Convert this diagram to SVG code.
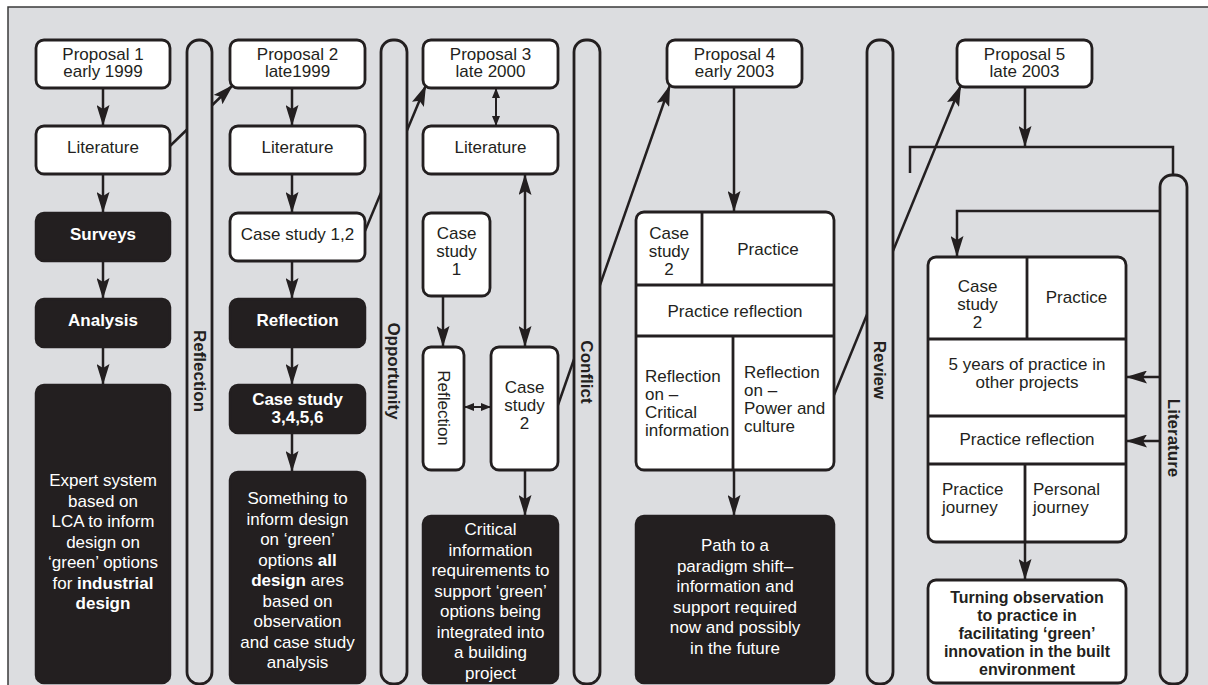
<svg xmlns="http://www.w3.org/2000/svg" width="1208" height="685" viewBox="0 0 1208 685">
<defs>
<style>
.t{font-family:"Liberation Sans",Arial,Helvetica,sans-serif;font-size:17px;fill:#231f20}
.c{text-anchor:middle}
.w{fill:#ffffff}
.b{font-weight:bold}
.box{fill:#ffffff;stroke:#231f20;stroke-width:2.8}
.dark{fill:#231f20;stroke:#231f20;stroke-width:2.5}
.bar{fill:#dcdde0;stroke:#231f20;stroke-width:2.8}
.ln{fill:none;stroke:#231f20;stroke-width:2.5}
.ar{fill:none;stroke:#231f20;stroke-width:2.5;marker-end:url(#big)}
.dbl{fill:none;stroke:#231f20;stroke-width:2.5;marker-end:url(#big);marker-start:url(#bigs)}
.sd{fill:none;stroke:#231f20;stroke-width:2;marker-end:url(#sm);marker-start:url(#sms)}
.div{fill:none;stroke:#231f20;stroke-width:2.8}
</style>
<marker id="big" markerUnits="userSpaceOnUse" markerWidth="21" markerHeight="13" viewBox="0 0 21 13" refX="21" refY="6.5" orient="auto">
<path d="M0,0 L21,6.5 L0,13 L4,6.5 z" fill="#231f20"/>
</marker>
<marker id="bigs" markerUnits="userSpaceOnUse" markerWidth="21" markerHeight="13" viewBox="0 0 21 13" refX="0" refY="6.5" orient="auto">
<path d="M21,0 L0,6.5 L21,13 L17,6.5 z" fill="#231f20"/>
</marker>
<marker id="sm" markerUnits="userSpaceOnUse" markerWidth="10" markerHeight="8" viewBox="0 0 10 8" refX="10" refY="4" orient="auto">
<path d="M0,0 L10,4 L0,8 z" fill="#231f20"/>
</marker>
<marker id="sms" markerUnits="userSpaceOnUse" markerWidth="10" markerHeight="8" viewBox="0 0 10 8" refX="0" refY="4" orient="auto">
<path d="M10,0 L0,4 L10,8 z" fill="#231f20"/>
</marker>
</defs>

<g id="background">
<rect x="8" y="7" width="1200" height="678" fill="#dcdde0"/>
<path d="M8,685 L8,7 L1208,7" fill="none" stroke="#3a3a3a" stroke-width="1.5"/>
</g>

<g id="connectors">
<line class="ar" x1="103" y1="88" x2="103" y2="126"/>
<line class="ar" x1="103" y1="174" x2="103" y2="213"/>
<line class="ar" x1="103" y1="261" x2="103" y2="299"/>
<line class="ar" x1="103" y1="347" x2="103" y2="385"/>
<line class="ar" x1="170" y1="146" x2="233" y2="85"/>
<line class="ar" x1="292" y1="88" x2="292" y2="126"/>
<line class="ar" x1="292" y1="174" x2="292" y2="213"/>
<line class="ar" x1="292" y1="261" x2="292" y2="299"/>
<line class="ar" x1="292" y1="347" x2="292" y2="385"/>
<line class="ar" x1="292" y1="433" x2="292" y2="472"/>
<line class="ar" x1="365" y1="231" x2="426" y2="85"/>
<line class="sd" x1="496" y1="88" x2="496" y2="126"/>
<line class="ar" x1="443" y1="296" x2="443" y2="347"/>
<line class="dbl" x1="525" y1="174" x2="525" y2="347"/>
<line class="sd" x1="464" y1="407" x2="491" y2="407"/>
<line class="ar" x1="525" y1="470" x2="525" y2="516"/>
<line class="ar" x1="558" y1="405" x2="670" y2="85"/>
<line class="ar" x1="734" y1="88" x2="734" y2="212"/>
<line class="ar" x1="734" y1="470" x2="734" y2="516"/>
<line class="ar" x1="834" y1="395" x2="961" y2="85"/>
<line class="ar" x1="1025" y1="88" x2="1025" y2="147"/>
<polyline class="ln" points="910,173 910,147 1173,147 1173,176"/>
<polyline class="ar" points="1160,211 957,211 957,257"/>
<line class="ar" x1="1160" y1="377" x2="1126" y2="377"/>
<line class="ar" x1="1160" y1="441" x2="1126" y2="441"/>
<line class="ar" x1="1025" y1="542" x2="1025" y2="580"/>
</g>

<g id="bar-reflection">
<rect class="bar" x="187" y="40" width="25" height="644" rx="12"/>
<text class="t b c" transform="translate(199.5,371) rotate(90)" x="0" y="6">Reflection</text>
</g>
<g id="bar-opportunity">
<rect class="bar" x="381" y="40" width="26" height="644" rx="12"/>
<text class="t b c" transform="translate(394,371) rotate(90)" x="0" y="6">Opportunity</text>
</g>
<g id="bar-conflict">
<rect class="bar" x="574" y="40" width="26" height="644" rx="12"/>
<text class="t b c" transform="translate(587,372) rotate(90)" x="0" y="6">Conflict</text>
</g>
<g id="bar-review">
<rect class="bar" x="867" y="40" width="26" height="644" rx="12"/>
<text class="t b c" transform="translate(880,370) rotate(90)" x="0" y="6">Review</text>
</g>
<g id="bar-literature">
<rect class="bar" x="1160" y="175" width="27" height="509" rx="12"/>
<text class="t b c" transform="translate(1173.5,438) rotate(90)" x="0" y="6">Literature</text>
</g>

<g id="proposal1">
<rect class="box" x="36" y="40" width="134" height="48" rx="8"/>
<text class="t c" x="103" y="59.5">Proposal 1</text>
<text class="t c" x="103" y="76.5">early 1999</text>
</g>
<g id="literature1">
<rect class="box" x="36" y="126" width="134" height="48" rx="8"/>
<text class="t c" x="103" y="153">Literature</text>
</g>
<g id="surveys">
<rect class="dark" x="36" y="213" width="134" height="48" rx="8"/>
<text class="t w b c" x="103" y="240">Surveys</text>
</g>
<g id="analysis">
<rect class="dark" x="36" y="299" width="134" height="48" rx="8"/>
<text class="t w b c" x="103" y="326">Analysis</text>
</g>
<g id="expert">
<rect class="dark" x="36" y="385" width="134" height="298" rx="8"/>
<text class="t w c" x="103" y="486">Expert system</text>
<text class="t w c" x="103" y="506.5">based on</text>
<text class="t w c" x="103" y="527">LCA to inform</text>
<text class="t w c" x="103" y="547.5">design on</text>
<text class="t w c" x="103" y="568">‘green’ options</text>
<text class="t w c" x="103" y="588.5">for <tspan class="b">industrial</tspan></text>
<text class="t w b c" x="103" y="609">design</text>
</g>

<g id="proposal2">
<rect class="box" x="230" y="40" width="135" height="48" rx="8"/>
<text class="t c" x="297.5" y="59.5">Proposal 2</text>
<text class="t c" x="297.5" y="76.5">late1999</text>
</g>
<g id="literature2">
<rect class="box" x="230" y="126" width="135" height="48" rx="8"/>
<text class="t c" x="297.5" y="153">Literature</text>
</g>
<g id="casestudy12">
<rect class="box" x="230" y="213" width="135" height="48" rx="8"/>
<text class="t c" x="297.5" y="240">Case study 1,2</text>
</g>
<g id="reflection2">
<rect class="dark" x="230" y="299" width="135" height="48" rx="8"/>
<text class="t w b c" x="297.5" y="326">Reflection</text>
</g>
<g id="casestudy3456">
<rect class="dark" x="230" y="385" width="135" height="48" rx="8"/>
<text class="t w b c" x="297.5" y="404.5">Case study</text>
<text class="t w b c" x="297.5" y="422.5">3,4,5,6</text>
</g>
<g id="something">
<rect class="dark" x="230" y="472" width="135" height="211" rx="8"/>
<text class="t w c" x="297.5" y="504">Something to</text>
<text class="t w c" x="297.5" y="524.5">inform design</text>
<text class="t w c" x="297.5" y="545">on ‘green’</text>
<text class="t w c" x="297.5" y="565.5">options <tspan class="b">all</tspan></text>
<text class="t w c" x="297.5" y="586"><tspan class="b">design</tspan> ares</text>
<text class="t w c" x="297.5" y="606.5">based on</text>
<text class="t w c" x="297.5" y="627">observation</text>
<text class="t w c" x="297.5" y="647.5">and case study</text>
<text class="t w c" x="297.5" y="668">analysis</text>
</g>

<g id="proposal3">
<rect class="box" x="423" y="40" width="135" height="48" rx="8"/>
<text class="t c" x="490.5" y="59.5">Proposal 3</text>
<text class="t c" x="490.5" y="76.5">late 2000</text>
</g>
<g id="literature3">
<rect class="box" x="423" y="126" width="135" height="48" rx="8"/>
<text class="t c" x="490.5" y="153">Literature</text>
</g>
<g id="casestudy1">
<rect class="box" x="423" y="213" width="67" height="83" rx="8"/>
<text class="t c" x="456.5" y="239">Case</text>
<text class="t c" x="456.5" y="257">study</text>
<text class="t c" x="456.5" y="275">1</text>
</g>
<g id="reflection3">
<rect class="box" x="423" y="347" width="41" height="123" rx="8"/>
<text class="t c" transform="translate(443.5,408) rotate(90)" x="0" y="6">Reflection</text>
</g>
<g id="casestudy2">
<rect class="box" x="491" y="347" width="67" height="123" rx="8"/>
<text class="t c" x="524.5" y="393">Case</text>
<text class="t c" x="524.5" y="411">study</text>
<text class="t c" x="524.5" y="429">2</text>
</g>
<g id="critical">
<rect class="dark" x="423" y="516" width="135" height="167" rx="8"/>
<text class="t w c" x="490.5" y="535">Critical</text>
<text class="t w c" x="490.5" y="555.5">information</text>
<text class="t w c" x="490.5" y="576">requirements to</text>
<text class="t w c" x="490.5" y="596.5">support ‘green’</text>
<text class="t w c" x="490.5" y="617">options being</text>
<text class="t w c" x="490.5" y="637.5">integrated into</text>
<text class="t w c" x="490.5" y="658">a building</text>
<text class="t w c" x="490.5" y="678.5">project</text>
</g>

<g id="proposal4">
<rect class="box" x="667" y="40" width="135" height="47" rx="8"/>
<text class="t c" x="734.5" y="59.5">Proposal 4</text>
<text class="t c" x="734.5" y="76.5">early 2003</text>
</g>
<g id="practice4">
<rect class="box" x="636" y="212" width="198" height="258" rx="8"/>
<line class="div" x1="702" y1="212" x2="702" y2="285"/>
<line class="div" x1="636" y1="285" x2="834" y2="285"/>
<line class="div" x1="636" y1="336" x2="834" y2="336"/>
<line class="div" x1="733" y1="336" x2="733" y2="470"/>
<text class="t c" x="669" y="239">Case</text>
<text class="t c" x="669" y="257">study</text>
<text class="t c" x="669" y="275">2</text>
<text class="t c" x="768" y="255">Practice</text>
<text class="t c" x="735" y="316.5">Practice reflection</text>
<text class="t" x="645" y="382">Reflection</text>
<text class="t" x="645" y="400">on –</text>
<text class="t" x="645" y="418">Critical</text>
<text class="t" x="645" y="436">information</text>
<text class="t" x="744" y="378">Reflection</text>
<text class="t" x="744" y="396">on –</text>
<text class="t" x="744" y="414">Power and</text>
<text class="t" x="744" y="432">culture</text>
</g>
<g id="path">
<rect class="dark" x="636" y="516" width="198" height="167" rx="8"/>
<text class="t w c" x="735" y="551">Path to a</text>
<text class="t w c" x="735" y="571.5">paradigm shift–</text>
<text class="t w c" x="735" y="592">information and</text>
<text class="t w c" x="735" y="612.5">support required</text>
<text class="t w c" x="735" y="633">now and possibly</text>
<text class="t w c" x="735" y="653.5">in the future</text>
</g>

<g id="proposal5">
<rect class="box" x="957" y="40" width="135" height="47" rx="8"/>
<text class="t c" x="1024.5" y="59.5">Proposal 5</text>
<text class="t c" x="1024.5" y="76.5">late 2003</text>
</g>
<g id="practice5">
<rect class="box" x="928" y="257" width="198" height="285" rx="8"/>
<line class="div" x1="1027" y1="257" x2="1027" y2="339"/>
<line class="div" x1="928" y1="339" x2="1126" y2="339"/>
<line class="div" x1="928" y1="416" x2="1126" y2="416"/>
<line class="div" x1="928" y1="464" x2="1126" y2="464"/>
<line class="div" x1="1025" y1="464" x2="1025" y2="542"/>
<text class="t c" x="977.5" y="292">Case</text>
<text class="t c" x="977.5" y="310">study</text>
<text class="t c" x="977.5" y="328">2</text>
<text class="t c" x="1076.5" y="303">Practice</text>
<text class="t c" x="1027" y="370">5 years of practice in</text>
<text class="t c" x="1027" y="388">other projects</text>
<text class="t c" x="1027" y="445">Practice reflection</text>
<text class="t" x="942" y="495">Practice</text>
<text class="t" x="942" y="513">journey</text>
<text class="t" x="1033" y="495">Personal</text>
<text class="t" x="1033" y="513">journey</text>
</g>
<g id="turning">
<rect class="box" x="928" y="580" width="198" height="103" rx="8"/>
<text class="t b c" x="1027" y="603" style="font-size:16px">Turning observation</text>
<text class="t b c" x="1027" y="621" style="font-size:16px">to practice in</text>
<text class="t b c" x="1027" y="639" style="font-size:16px">facilitating ‘green’</text>
<text class="t b c" x="1027" y="657" style="font-size:16px">innovation in the built</text>
<text class="t b c" x="1027" y="675" style="font-size:16px">environment</text>
</g>
</svg>
